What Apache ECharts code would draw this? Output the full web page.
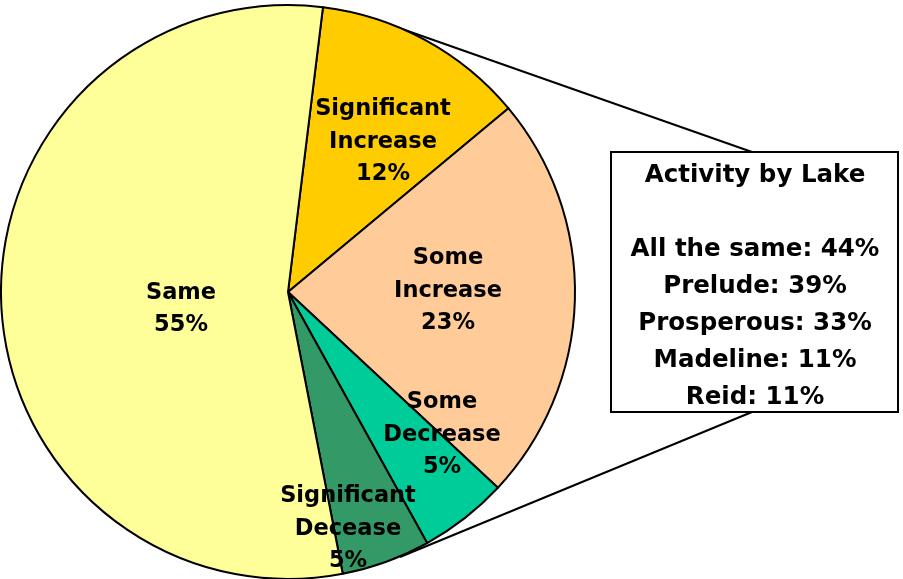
<!DOCTYPE html>
<html>
<head>
<meta charset="utf-8">
<script src="https://cdn.jsdelivr.net/npm/echarts@6/dist/echarts.min.js"></script>
<style>
  html, body { margin: 0; padding: 0; background: #fff; }
  #chart { width: 903px; height: 579px; }
</style>
</head>
<body>
<div id="chart"></div>
<script>
// pie slices, clockwise from the top
var categories = ['Significant Increase', 'Some Increase', 'Some Decrease', 'Significant Decease', 'Same']
var shares = [12, 23, 5, 5, 55]
var sliceColors = ['#FFCC00', '#FFCC99', '#00CC99', '#339966', '#FFFF99']

// callout box
var boxTitle = 'Activity by Lake'
var lakes = ['All the same', 'Prelude', 'Prosperous', 'Madeline', 'Reid']
var lakeShares = [44, 39, 33, 11, 11]

var center = [288, 292]
var radius = 287
// where each label sits, relative to the pie centre
var labelOffsets = [[95, -150], [160, -1], [154, 143], [60, 237], [-107, 17]]

var font = 'DejaVu Sans'
var chart = echarts.init(document.getElementById('chart'))

var boxLines = [boxTitle, '']
lakes.forEach(function(l, i) {
  boxLines.push(l + ': ' + lakeShares[i] + '%')
})

chart.setOption({
  animation: false,
  backgroundColor: '#fff',
  graphic: [
    {
      type: 'line',
      z: -1,
      shape: { x1: 385, y1: 23, x2: 752, y2: 152 },
      style: { stroke: '#000', lineWidth: 2 }
    },
    {
      type: 'line',
      z: -1,
      shape: { x1: 400, y1: 557, x2: 752, y2: 412 },
      style: { stroke: '#000', lineWidth: 2 }
    },
    {
      type: 'rect',
      shape: { x: 611, y: 152, width: 287, height: 260 },
      style: { fill: '#fff', stroke: '#000', lineWidth: 2 }
    },
    {
      type: 'text',
      x: 755,
      y: 157,
      style: {
        text: boxLines.join('\n'),
        fill: '#000',
        font: 'bold 24.5px "' + font + '"',
        align: 'center',
        verticalAlign: 'top',
        lineHeight: 37
      }
    }
  ],
  series: [
    {
      type: 'pie',
      center: center,
      radius: radius,
      startAngle: 83,
      clockwise: true,
      sort: 'none',
      data: categories.map(function(name, i) {
        return { name: name, value: shares[i], itemStyle: { color: sliceColors[i] } }
      }),
      itemStyle: { borderColor: '#000', borderWidth: 2 },
      label: {
        show: true,
        position: 'inside',
        color: '#000',
        fontFamily: font,
        fontWeight: 'bold',
        fontSize: 22.5,
        lineHeight: 32.5,
        align: 'center',
        verticalAlign: 'middle',
        formatter: function(p) {
          return p.name.replace(' ', '\n') + '\n' + p.value + '%'
        }
      },
      labelLayout: function(p) {
        var o = labelOffsets[p.dataIndex]
        return { x: center[0] + o[0], y: center[1] + o[1], align: 'center', verticalAlign: 'middle' }
      },
      labelLine: { show: false },
      emphasis: { disabled: true }
    }
  ]
})
</script>
</body>
</html>
